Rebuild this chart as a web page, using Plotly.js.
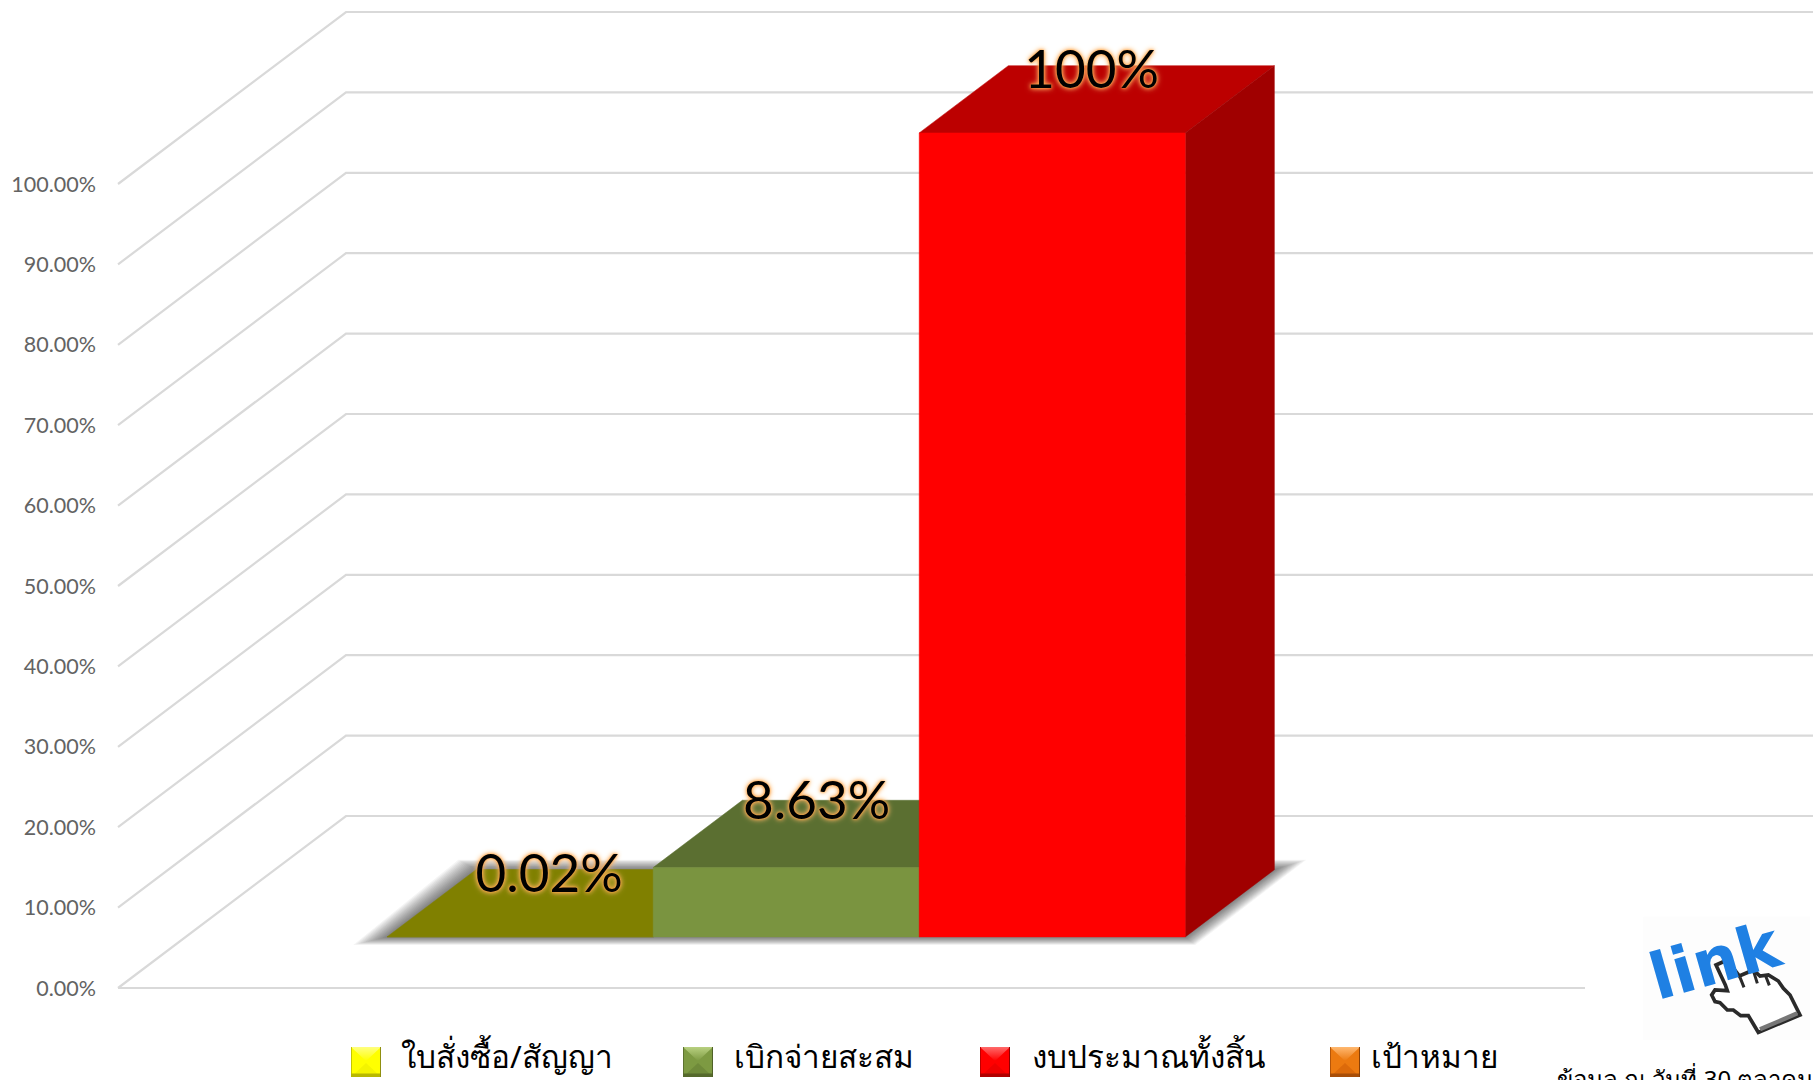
<!DOCTYPE html>
<html>
<head>
<meta charset="utf-8">
<script src="https://cdn.plot.ly/plotly-3.0.1.min.js"></script>
<style>html,body{margin:0;padding:0;background:#fff;overflow:hidden}#chart{width:1813px;height:1080px}</style>
</head>
<body>
<div id="chart"></div>
<script>
// ---- data ----
const seriesNames = ['ใบสั่งซื้อ/สัญญา', 'เบิกจ่ายสะสม', 'งบประมาณทั้งสิ้น', 'เป้าหมาย'];
const seriesValues = [0.02, 8.63, 100, null];
const valueLabels = ['0.02%', '8.63%', '100%', ''];
const tickValues = [0, 10, 20, 30, 40, 50, 60, 70, 80, 90, 100];
const tickLabels = ['0.00%', '10.00%', '20.00%', '30.00%', '40.00%', '50.00%', '60.00%', '70.00%', '80.00%', '90.00%', '100.00%'];
const noteText = 'ข้อมูล ณ วันที่ 30 ตุลาคม';
const linkText = 'link';

// ---- styles ----
const frontColors = ['#808000', '#7a9440', '#ff0000', '#e46c0a'];
const topColors = ['#808000', '#5b6f31', '#bc0000', '#a84e08'];
const sideColors = ['#666600', '#4a5a28', '#a00000', '#8a4006'];
const keyColors = [
  {t:'#ffff80', m:'#ffff00', l:'#f4f400', b:'#b8b800', e:'#8f8f10'},
  {t:'#b8d080', m:'#7d9a42', l:'#6f8a3a', b:'#55692c', e:'#4f6128'},
  {t:'#ff6a6a', m:'#ff0000', l:'#ee0000', b:'#b00000', e:'#900000'},
  {t:'#ffb870', m:'#ec7a10', l:'#dc6a0a', b:'#a84e08', e:'#8a4006'}
];
const W = 1813, H = 1080;
const plotLeft = 97, plotBottom = 1000;
const pxPerSlot = 266, pxPerPct = 8.04;
const slot0Px = 319.5, zeroPx = 988;
const gapSlots = 0.7575;
const skewX = 228 / pxPerSlot, skewY = 172 / pxPerPct;
const depthFront = 0.297, depthBack = 0.688;
const labelShiftX = [29, 30.5, 39.5], labelShiftY = [58, 62, 58.5];
const xRange = [(plotLeft - slot0Px) / pxPerSlot, (W - slot0Px) / pxPerSlot];
const yRange = [(zeroPx - plotBottom) / pxPerPct, zeroPx / pxPerPct];
const X = (slot, d) => slot + d * skewX;
const Y = (v, d) => v + d * skewY;
const gridColor = '#d9d9d9';
const noHover = {hoverinfo: 'skip', showlegend: false};

const traces = [];
// gridlines on side wall + back wall, floor front edge
tickValues.forEach(v => {
  traces.push({type:'scatter', mode:'lines', x:[-gapSlots, X(-gapSlots,1), xRange[1]], y:[Y(v,0), Y(v,1), Y(v,1)],
    line:{color:gridColor, width:2.2}, ...noHover});
});
traces.push({type:'scatter', mode:'lines', x:[-gapSlots, 3 + 1 + gapSlots], y:[0,0],
  line:{color:gridColor, width:2.2}, ...noHover});

// soft floor shadow under the drawn bars
const lastBar = seriesValues.filter(v => v !== null).length;
const corners = [[0,depthFront],[0,depthBack],[lastBar,depthBack],[lastBar,depthFront]];
const outer = [[-34,-8],[-18,10],[32,10],[10,-8]];
const shadowSteps = 14;
for (let k = shadowSteps; k >= 1; k--) {
  const t = k / shadowSteps;
  const xs = [], ys = [];
  corners.forEach((c, i) => {
    xs.push(X(c[0], c[1]) + outer[i][0] * t / pxPerSlot);
    ys.push(Y(0, c[1]) + outer[i][1] * t / pxPerPct);
  });
  xs.push(xs[0]); ys.push(ys[0]);
  traces.push({type:'scatter', mode:'lines', x:xs, y:ys, fill:'toself',
    fillcolor:'rgba(0,0,0,0.045)', line:{width:0}, ...noHover});
}

// bars: top, side, front
seriesValues.forEach((v, i) => {
  if (v === null) return;
  const l = i, r = i + 1;
  const poly = (pts, color, name) => traces.push({type:'scatter', mode:'lines', name, fill:'toself', fillcolor:color,
    x: pts.map(p => X(p[0], p[2])), y: pts.map(p => Y(p[1], p[2])),
    line:{color, width:0.5}, hoverinfo:'name', showlegend:false});
  poly([[l,v,depthFront],[l,v,depthBack],[r,v,depthBack],[r,v,depthFront],[l,v,depthFront]], topColors[i], seriesNames[i]);
  poly([[r,0,depthFront],[r,v,depthFront],[r,v,depthBack],[r,0,depthBack],[r,0,depthFront]], sideColors[i], seriesNames[i]);
  poly([[l,0,depthFront],[l,v,depthFront],[r,v,depthFront],[r,0,depthFront],[l,0,depthFront]], frontColors[i], seriesNames[i]);
});

// value labels
seriesValues.forEach((v, i) => {
  if (v === null) return;
  traces.push({type:'scatter', mode:'text', x:[X(i + 0.5, depthFront) + labelShiftX[i] / pxPerSlot],
    y:[Y(v, depthFront) + labelShiftY[i] / pxPerPct], text:[valueLabels[i]], textposition:'middle center',
    textfont:{family:'Lato, sans-serif', size:53, color:'#000', shadow:'0 0 4px #ffa040, 0 0 6px #ffc88a, 0 0 2px #ff9a2a'},
    cliponaxis:false, ...noHover});
});

// legend keys (bevelled squares) as small svg images, labels as annotations
const svgUri = s => 'data:image/svg+xml;charset=utf-8,' + encodeURIComponent(s);
const keySvg = (c, i) => `<svg xmlns="http://www.w3.org/2000/svg" width="30" height="30" viewBox="0 0 30 30">
<defs><linearGradient id="g${i}" x1="0" y1="0" x2="0" y2="1"><stop offset="0" stop-color="${c.t}"/><stop offset="1" stop-color="${c.m}"/></linearGradient></defs>
<rect width="30" height="30" fill="${c.m}"/>
<polygon points="0,0 30,0 15,14" fill="url(#g${i})"/>
<polygon points="0,30 30,30 15,16" fill="${c.l}"/>
<rect x="0" y="26.5" width="30" height="3.5" fill="${c.b}"/>
<rect x="29" y="0" width="1" height="30" fill="${c.e}"/>
<rect x="0" y="0" width="0.8" height="30" fill="${c.b}"/></svg>`;
const keyX = [351, 683, 980, 1330];
const keyY = 1047, keySize = 30;
const textX = [399, 732, 1030, 1369];
const textY = 1055;
const images = seriesNames.map((n, i) => ({
  source: svgUri(keySvg(keyColors[i], i)), xref:'paper', yref:'paper', x:keyX[i]/W, y:1-keyY/H,
  sizex:keySize/W, sizey:keySize/H, xanchor:'left', yanchor:'top', sizing:'stretch', layer:'above'
}));
const annotations = seriesNames.map((n, i) => ({
  text:n, xref:'paper', yref:'paper', x:textX[i]/W, y:1-textY/H, xanchor:'left', yanchor:'middle',
  showarrow:false, font:{family:'"Noto Sans", "DejaVu Sans", sans-serif', size:31.5, color:'#000'}
}));

// pointer-hand picture (drawn on a 579x540 canvas covering the corner)
const handSvg = `<svg xmlns="http://www.w3.org/2000/svg" width="193" height="180" viewBox="0 0 579 540">
<rect x="70" y="50" width="500" height="370" fill="#fdfdfd"/>
<polygon points="288,195 315,183 340,205 358,228 400,210 420,228 445,225 475,243 490,265 510,285 525,315 540,345 415,397 400,372 385,347 362,347 340,330 322,330 300,308 285,305 275,285 285,270 322,272 316,255"
 fill="#fff" stroke="#2a2a2a" stroke-width="11" stroke-linejoin="miter"/>
<polyline points="420,388 532,340" fill="none" stroke="#777" stroke-width="13"/>
<path d="M360,232 L372,262 M400,212 L412,250 M437,228 L448,256" stroke="#2a2a2a" stroke-width="9" fill="none"/>
</svg>`;
images.push({source: svgUri(handSvg), xref:'paper', yref:'paper', x:1620/W, y:1-900/H, sizex:193/W, sizey:180/H,
  xanchor:'left', yanchor:'top', sizing:'stretch', layer:'below'});

annotations.push({text:linkText, xref:'paper', yref:'paper', x:1715/W, y:1-961/H, xanchor:'center', yanchor:'middle',
  textangle:-16, showarrow:false, font:{family:'"DejaVu Sans", sans-serif', size:64, weight:700, color:'#1f80e3'}});
annotations.push({text:noteText, xref:'paper', yref:'paper', x:1555/W, y:1-1078/H, xanchor:'left', yanchor:'middle',
  showarrow:false, font:{family:'"Noto Sans", "DejaVu Sans", sans-serif', size:24, color:'#000'}});

const layout = {
  width:W, height:H, margin:{l:0, r:0, t:0, b:0, pad:0}, showlegend:false,
  paper_bgcolor:'#fff', plot_bgcolor:'rgba(0,0,0,0)', hovermode:'closest',
  xaxis:{domain:[plotLeft/W, 1], range:xRange, visible:false, fixedrange:true},
  yaxis:{domain:[(H-plotBottom)/H, 1], range:yRange, tickmode:'array', tickvals:tickValues, ticktext:tickLabels,
    showgrid:false, zeroline:false, showline:false, ticks:'', ticklen:0, fixedrange:true, ticklabelshift:2.5,
    tickfont:{family:'Lato, sans-serif', size:21.5, color:'#636363'}},
  images, annotations
};
Plotly.newPlot('chart', traces, layout, {displayModeBar:false});
</script>
</body>
</html>
